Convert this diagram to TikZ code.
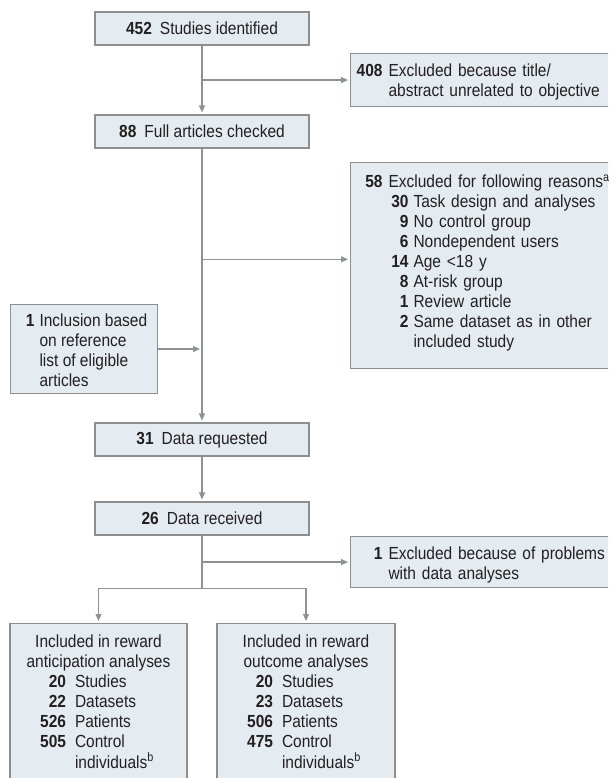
\documentclass[tikz,border=0pt]{standalone}
\usepackage{fontspec}
\setmainfont{Liberation Sans}[FakeStretch=0.885]
\usepackage{array}
\usetikzlibrary{arrows.meta,calc}
\definecolor{boxfill}{HTML}{E5ECF1}
\definecolor{boxline}{HTML}{8C8E90}
\definecolor{connc}{HTML}{8F9194}
\definecolor{ink}{HTML}{231F20}
\newcommand{\fsz}{\fontsize{17.5}{20}\selectfont}
\newcolumntype{N}[1]{>{\bfseries}w{r}{#1}}
\newcommand{\subn}[1]{\makebox[20pt][r]{\textbf{#1}}\hspace{5pt}}
\begin{document}
\begin{tikzpicture}[x=1pt,y=-1pt,font=\fsz,
  box/.style={draw=boxline, fill=boxfill, line width=1.1pt, inner sep=0pt, text=ink},
  cbox/.style={box, minimum width=214pt, minimum height=33pt},
  rbox/.style={box, anchor=north west, inner xsep=6pt, inner ysep=0pt, text width=290pt},
  link/.style={draw=connc, line width=1.2pt},
  arr/.style={link, -{Triangle[length=7pt,width=6pt]}, shorten >=2pt}]
\path[use as bounding box, clip] (0,0) rectangle (608,778);
\fill[white] (0,0) rectangle (608,778);

% centre column
\node[cbox] (n452) at (202,28.5) {\textbf{452}\hspace{8pt}Studies identified};
\node[cbox] (n88) at (202,131.5) {\textbf{88}\hspace{8pt}Full articles checked};
\node[cbox] (n31) at (202,439.5) {\textbf{31}\hspace{8pt}Data requested};
\node[cbox] (n26) at (202,518.5) {\textbf{26}\hspace{8pt}Data received};

% right column
\node[rbox] (n408) at (350,53) {\begin{tabular}{@{}N{26pt}@{\hspace{6pt}}l@{}}
\rule{0pt}{23pt}408 & Excluded because title/\\
 & abstract unrelated to objective\rule[-10pt]{0pt}{0pt}
\end{tabular}};

\node[rbox] (n58) at (350,162) {\begin{tabular}{@{}N{26pt}@{\hspace{6pt}}l@{}}
\rule{0pt}{25pt}58 & Excluded for following reasons\textsuperscript{a}\\
 & \subn{30}Task design and analyses\\
 & \subn{9}No control group\\
 & \subn{6}Nondependent users\\
 & \subn{14}Age <18 y\\
 & \subn{8}At-risk group\\
 & \subn{1}Review article\\
 & \subn{2}Same dataset as in other\\
 & \hspace{25pt}included study\rule[-21pt]{0pt}{0pt}
\end{tabular}};

\node[rbox] (nex) at (350,536) {\begin{tabular}{@{}N{26pt}@{\hspace{6pt}}l@{}}
\rule{0pt}{22.5pt}1 & Excluded because of problems\\
 & with data analyses\rule[-8.5pt]{0pt}{0pt}
\end{tabular}};

% left inclusion box
\node[box, anchor=north west, inner xsep=6pt, inner ysep=0pt] (ninc) at (10,304) {\begin{tabular}{@{}N{18pt}@{\hspace{5pt}}w{l}{112pt}@{}}
\rule{0pt}{22pt}1 & Inclusion based\\
 & on reference\\
 & list of eligible\\
 & articles\rule[-7pt]{0pt}{0pt}
\end{tabular}};

% bottom boxes
\node[box, anchor=north] (nL) at (98.5,623) {\begin{tabular}{@{}N{56pt}@{\hspace{9pt}}w{l}{112pt}@{}}
\multicolumn{2}{@{}c@{}}{\rule{0pt}{23.5pt}Included in reward}\\
\multicolumn{2}{@{}c@{}}{anticipation analyses}\\
20 & Studies\\
22 & Datasets\\
526 & Patients\\
505 & Control\\
 & individuals\textsuperscript{b}\rule[-40pt]{0pt}{0pt}
\end{tabular}};

\node[box, anchor=north] (nR) at (306,623) {\begin{tabular}{@{}N{56pt}@{\hspace{9pt}}w{l}{113pt}@{}}
\multicolumn{2}{@{}c@{}}{\rule{0pt}{23.5pt}Included in reward}\\
\multicolumn{2}{@{}c@{}}{outcome analyses}\\
20 & Studies\\
23 & Datasets\\
506 & Patients\\
475 & Control\\
 & individuals\textsuperscript{b}\rule[-40pt]{0pt}{0pt}
\end{tabular}};

% connectors
\coordinate (t58) at ($(n58.north west)!0.47!(n58.south west)$);
\draw[arr] (n452) -- (n88);
\draw[arr] (n452.south |- n408.west) -- (n408.west);
\draw[arr] (n88) -- (n31);
\draw[arr] (n88.south |- t58) -- (t58);
\draw[arr] (ninc.east) -- (ninc.east -| n88.south);
\draw[arr] (n31) -- (n26);
\draw[arr] (n26.south |- nex.west) -- (nex.west);
\coordinate (sp) at (n26.south |- nex.south);
\draw[link] (n26.south) -- (sp);
\draw[arr] (sp) -| (nL.north);
\draw[arr] (sp) -| (nR.north);
\end{tikzpicture}
\end{document}
